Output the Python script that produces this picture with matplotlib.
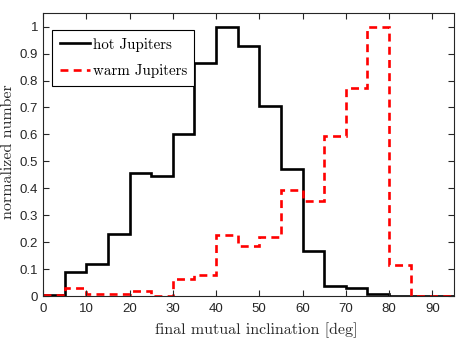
import numpy as np
import matplotlib
matplotlib.use("Agg")
import matplotlib.pyplot as plt

bin_edges = list(range(0, 100, 5))
hot = [0.005, 0.088, 0.12, 0.232, 0.455, 0.446, 0.60, 0.865, 1.0, 0.929,
       0.705, 0.473, 0.167, 0.038, 0.031, 0.007, 0.0, 0.0, 0.0]
warm = [0.005, 0.030, 0.009, 0.009, 0.02, 0.0, 0.062, 0.080, 0.228, 0.187,
        0.218, 0.395, 0.353, 0.595, 0.771, 1.0, 0.114, 0.0, 0.0]
xticks = list(range(0, 100, 10))
yticks = [round(0.1 * i, 1) for i in range(11)]
ytick_labels = ["0", "0.1", "0.2", "0.3", "0.4", "0.5", "0.6", "0.7", "0.8", "0.9", "1"]

fig = plt.figure(figsize=(4.58, 3.38), dpi=100)
ax = fig.add_axes([0.094, 0.124, 0.897, 0.837])
gray = "#262626"

ax.stairs(hot, bin_edges, color="black", lw=1.9, label="hot Jupiters", baseline=None)
ax.stairs(warm, bin_edges, color="red", lw=1.9, ls=(0, (3, 2)), label="warm Jupiters", baseline=None)

ax.set_xlim(0, 95)
ax.set_ylim(0, 1.05)
ax.set_xticks(xticks)
ax.set_yticks(yticks)
ax.set_yticklabels(ytick_labels)
ax.tick_params(direction="in", top=True, right=True, labelsize=9.5, colors=gray, length=4, width=0.8)
ax.tick_params(axis="x", pad=5)
for lab in ax.get_xticklabels() + ax.get_yticklabels():
    lab.set_fontfamily("Liberation Sans")
for s in ax.spines.values():
    s.set_color(gray)
    s.set_linewidth(0.8)

ax.set_xlabel("final mutual inclination [deg]", fontname="cmr10", fontsize=11.5, color=gray)
ax.set_ylabel("normalized number", fontname="cmr10", fontsize=11.5, color=gray)
ax.xaxis.set_label_coords(0.518, -0.120)
ax.xaxis.label.set_va("center")
ax.yaxis.set_label_coords(-0.084, 0.511)
ax.yaxis.label.set_va("center")

leg = ax.legend(loc="upper left", bbox_to_anchor=(9 / 410.8, 1 - 17 / 283),
                prop={"family": "cmr10", "size": 10.8}, frameon=True,
                fancybox=False, edgecolor="black", framealpha=1, handlelength=2.05,
                handletextpad=0.15, borderaxespad=0.0, labelspacing=0.85, borderpad=0.5)
leg.get_frame().set_linewidth(0.8)

fig.savefig("out.png", dpi=100)
